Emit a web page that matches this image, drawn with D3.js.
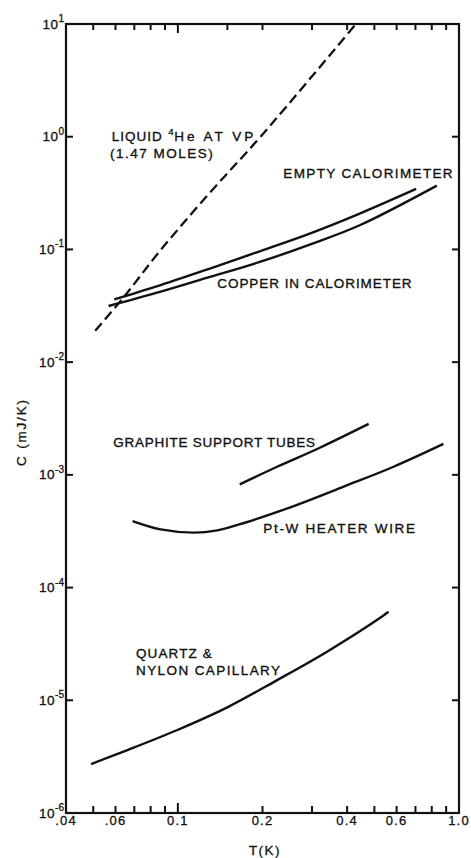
<!DOCTYPE html>
<html>
<head>
<meta charset="utf-8">
<script src="https://cdn.jsdelivr.net/npm/d3@7"></script>
<style>
  html, body { margin: 0; padding: 0; background: #fff; }
  svg { display: block; }
  text { font-family: "Liberation Sans", Arial, sans-serif; fill: #111; }
</style>
</head>
<body>
<script>
// Heat capacity contributions of the calorimeter parts, log-log in T and C.
const xMinorTicks = [0.05, 0.06, 0.07, 0.08, 0.09, 0.1, 0.2, 0.3, 0.4, 0.5, 0.6, 0.7, 0.8, 0.9];
const xTopTicks = [0.05, 0.06, 0.07, 0.08, 0.09, 0.1, 0.15, 0.2, 0.3, 0.4, 0.5, 0.6, 0.7, 0.8, 0.9];
const xLabelValues = [0.04, 0.06, 0.1, 0.2, 0.4, 0.6, 1.0];
const xLabelText = [".04", ".06", "0.1", "0.2", "0.4", "0.6", "1.0"];
const yDecades = [1, 0, -1, -2, -3, -4, -5, -6];

// Liquid 4He at vapour pressure (1.47 moles) - dashed
const heliumT = [0.0508, 0.0644, 0.0859, 0.1287, 0.1968, 0.43];
const heliumC = [0.0190, 0.0381, 0.0955, 0.310, 1.0, 10];

// Empty calorimeter
const emptyT = [0.0594, 0.0869, 0.1308, 0.1968, 0.2961, 0.4456, 0.704];
const emptyC = [0.0361, 0.0483, 0.0680, 0.0968, 0.1389, 0.209, 0.344];

// Copper in calorimeter
const copperT = [0.0567, 0.0869, 0.1308, 0.1968, 0.2961, 0.4456, 0.834];
const copperC = [0.0315, 0.0422, 0.0573, 0.0778, 0.1109, 0.1647, 0.368];

// Graphite support tubes
const graphiteT = [0.166, 0.2255, 0.3214, 0.477];
const graphiteC = [8.24e-4, 1.18e-3, 1.75e-3, 2.83e-3];

// Pt-W heater wire
const ptwT = [0.069, 0.0869, 0.1142, 0.1381, 0.1718, 0.2584, 0.3888, 0.5852, 0.8805];
const ptwC = [3.89e-4, 3.28e-4, 3.07e-4, 3.22e-4, 3.74e-4, 5.29e-4, 7.86e-4, 1.18e-3, 1.88e-3];

// Quartz & nylon capillary
const quartzT = [0.0491, 0.0662, 0.0996, 0.1499, 0.2255, 0.3394, 0.5105, 0.5616];
const quartzC = [2.72e-6, 3.62e-6, 5.45e-6, 8.65e-6, 1.51e-5, 2.70e-5, 5.15e-5, 6.11e-5];

const W = 471, H = 858;
const frame = { l: 66, r: 459, t: 24, b: 813 };
const ink = "#111";

const svg = d3.select("body").append("svg")
  .attr("width", W).attr("height", H)
  .attr("viewBox", `0 0 ${W} ${H}`);
svg.append("rect").attr("width", W).attr("height", H).attr("fill", "#fff");

const x = d3.scaleLog().domain([0.04, 1]).range([frame.l, frame.r]);
const y = d3.scaleLog().domain([1e-6, 10]).range([frame.b, frame.t]);

// Frame
svg.append("rect")
  .attr("x", frame.l).attr("y", frame.t)
  .attr("width", frame.r - frame.l).attr("height", frame.b - frame.t)
  .attr("fill", "none").attr("stroke", ink).attr("stroke-width", 2.2);

// Inward-pointing ticks as small filled bars
const tw = 2;
const tickG = svg.append("g").attr("fill", ink);
tickG.selectAll("rect.b").data(xMinorTicks).join("rect").attr("class", "b")
  .attr("x", v => x(v) - tw / 2).attr("width", tw)
  .attr("y", v => frame.b - (v === 0.1 ? 10 : 7)).attr("height", v => (v === 0.1 ? 10 : 7));
tickG.selectAll("rect.t").data(xTopTicks).join("rect").attr("class", "t")
  .attr("x", v => x(v) - tw / 2).attr("width", tw)
  .attr("y", frame.t).attr("height", v => (v === 0.1 ? 9 : 6));
const innerDecades = yDecades.filter(e => e !== 1 && e !== -6);
tickG.selectAll("rect.l").data(innerDecades).join("rect").attr("class", "l")
  .attr("x", frame.l).attr("width", 7)
  .attr("y", e => y(Math.pow(10, e)) - tw / 2).attr("height", tw);
tickG.selectAll("rect.r").data(innerDecades).join("rect").attr("class", "r")
  .attr("x", frame.r - 7).attr("width", 7)
  .attr("y", e => y(Math.pow(10, e)) - tw / 2).attr("height", tw);

// Y tick labels: 10 with superscript exponent
const yl = svg.append("g").selectAll("text").data(yDecades).join("text")
  .attr("x", 64)
  .attr("y", e => y(Math.pow(10, e)) + 4.5)
  .attr("text-anchor", "end")
  .attr("stroke", ink).attr("stroke-width", 0.3);
yl.append("tspan").attr("font-size", 13.5).attr("letter-spacing", 0.5).text("10");
yl.append("tspan").attr("font-size", 10).attr("dy", -6.5).text(e => String(e));

// X tick labels
svg.append("g").selectAll("text").data(xLabelValues).join("text")
  .attr("x", d => x(d)).attr("y", 825)
  .attr("text-anchor", "middle")
  .attr("font-size", 13)
  .attr("letter-spacing", 1.2)
  .attr("stroke", ink).attr("stroke-width", 0.3)
  .text((d, i) => xLabelText[i]);

// Axis titles
svg.append("text")
  .attr("x", 265).attr("y", 855)
  .attr("text-anchor", "middle")
  .attr("font-size", 13.5)
  .attr("letter-spacing", 1.5)
  .attr("stroke", ink).attr("stroke-width", 0.3)
  .text("T(K)");
svg.append("text")
  .attr("transform", "translate(26,433) rotate(-90)")
  .attr("text-anchor", "middle")
  .attr("font-size", 13.5)
  .attr("stroke", ink).attr("stroke-width", 0.3)
  .attr("textLength", 66).attr("lengthAdjust", "spacing")
  .text("C (mJ/K)");

// Curves
const curveLine = d3.line()
  .x(d => x(d[0])).y(d => y(d[1]))
  .curve(d3.curveCatmullRom.alpha(0.5));
const zip = (a, b) => a.map((v, i) => [v, b[i]]);

const plot = svg.append("g");
plot.append("path").datum(zip(heliumT, heliumC))
  .attr("d", curveLine).attr("fill", "none").attr("stroke", ink)
  .attr("stroke-width", 2.3).attr("stroke-dasharray", "10,5");
[[emptyT, emptyC], [copperT, copperC], [graphiteT, graphiteC],
 [ptwT, ptwC], [quartzT, quartzC]].forEach(([t, c]) => {
  plot.append("path").datum(zip(t, c))
    .attr("d", curveLine).attr("fill", "none").attr("stroke", ink)
    .attr("stroke-width", 2.4).attr("stroke-linecap", "butt");
});

// Curve annotations
const notes = [
  { text: "LIQUID", x: 111.7, y: 140.5, w: 50 },
  { text: "He AT VP", x: 174.3, y: 140.5, w: 79 },
  { text: "(1.47 MOLES)", x: 110, y: 157.5, w: 102.7 },
  { text: "EMPTY CALORIMETER", x: 283.3, y: 178.3, w: 169.3 },
  { text: "COPPER IN CALORIMETER", x: 217.3, y: 287.7, w: 194.3 },
  { text: "GRAPHITE SUPPORT TUBES", x: 113.3, y: 446.7, w: 201.7 },
  { text: "Pt-W HEATER WIRE", x: 263.3, y: 533.3, w: 151.7 },
  { text: "QUARTZ &", x: 136, y: 658.3, w: 75.7 },
  { text: "NYLON CAPILLARY", x: 136, y: 675, w: 144 }
];
svg.append("g").selectAll("text").data(notes).join("text")
  .attr("x", d => d.x).attr("y", d => d.y)
  .attr("font-size", 13.5)
  .attr("stroke", ink).attr("stroke-width", 0.35)
  .attr("textLength", d => d.w).attr("lengthAdjust", "spacing")
  .text(d => d.text);
svg.append("text")
  .attr("x", 168.3).attr("y", 134.5)
  .attr("font-size", 9.5)
  .attr("stroke", ink).attr("stroke-width", 0.3)
  .text("4");
</script>
</body>
</html>
